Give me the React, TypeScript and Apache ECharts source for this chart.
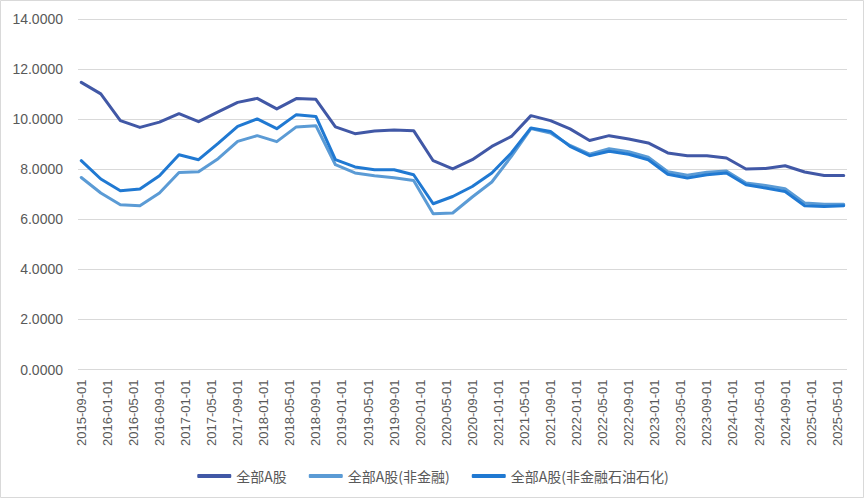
import React, { useEffect, useRef } from "react";
import * as echarts from "echarts";

const dates = [
  "2015-09-01", "2015-12-01", "2016-03-01", "2016-06-01", "2016-09-01", "2016-12-01",
  "2017-03-01", "2017-06-01", "2017-09-01", "2017-12-01", "2018-03-01", "2018-06-01",
  "2018-09-01", "2018-12-01", "2019-03-01", "2019-06-01", "2019-09-01", "2019-12-01",
  "2020-03-01", "2020-06-01", "2020-09-01", "2020-12-01", "2021-03-01", "2021-06-01",
  "2021-09-01", "2021-12-01", "2022-03-01", "2022-06-01", "2022-09-01", "2022-12-01",
  "2023-03-01", "2023-06-01", "2023-09-01", "2023-12-01", "2024-03-01", "2024-06-01",
  "2024-09-01", "2024-12-01", "2025-03-01", "2025-06-01",
];

const allA = [
  11.47, 11.01, 9.94, 9.67, 9.88, 10.22, 9.9, 10.29, 10.67, 10.83, 10.41, 10.82,
  10.79, 9.69, 9.42, 9.53, 9.57, 9.54, 8.34, 8.01, 8.38, 8.91, 9.31, 10.14,
  9.94, 9.61, 9.15, 9.34, 9.21, 9.05, 8.65, 8.54, 8.54, 8.45, 8.01, 8.03,
  8.14, 7.89, 7.75, 7.75,
];

const nonFin = [
  7.67, 7.05, 6.58, 6.54, 7.05, 7.87, 7.9, 8.42, 9.11, 9.34, 9.1, 9.69,
  9.74, 8.18, 7.85, 7.74, 7.66, 7.55, 6.22, 6.25, 6.89, 7.49, 8.51, 9.62,
  9.45, 8.95, 8.6, 8.82, 8.7, 8.48, 7.9, 7.76, 7.88, 7.93, 7.45, 7.35,
  7.22, 6.65, 6.6, 6.6,
];

const nonFinPetro = [
  8.34, 7.61, 7.14, 7.21, 7.74, 8.58, 8.38, 9.03, 9.71, 10.01, 9.62, 10.18,
  10.11, 8.38, 8.09, 7.98, 7.98, 7.78, 6.62, 6.91, 7.31, 7.85, 8.65, 9.65,
  9.51, 8.91, 8.54, 8.72, 8.6, 8.38, 7.8, 7.65, 7.78, 7.85, 7.38, 7.25,
  7.11, 6.54, 6.51, 6.54,
];

const seriesNames = ["全部A股", "全部A股(非金融)", "全部A股(非金融石油石化)"];
const seriesColors = ["#4158A6", "#5B9BD5", "#2079D2"];

const START_YEAR = 2015;
const START_MONTH = 9;
const monthIndex = (d: string) => {
  const [y, m] = d.split("-").map(Number);
  return (y - START_YEAR) * 12 + (m - START_MONTH);
};
const indexToDate = (i: number) => {
  const total = START_MONTH - 1 + i;
  const y = START_YEAR + Math.floor(total / 12);
  const m = (total % 12) + 1;
  return `${y}-${String(m).padStart(2, "0")}-01`;
};

const lastIndex = monthIndex(dates[dates.length - 1]);
const labelValues: number[] = [];
for (let i = 0; i <= lastIndex; i += 4) labelValues.push(i);

export default function App() {
  const ref = useRef<HTMLDivElement>(null);

  useEffect(() => {
    if (!ref.current) return;
    const chart = echarts.init(ref.current, undefined, { renderer: "svg" });
    const values = [allA, nonFin, nonFinPetro];
    chart.setOption({
      animation: false,
      backgroundColor: "#ffffff",
      textStyle: { fontFamily: "'Liberation Sans', 'Noto Sans CJK SC', sans-serif" },
      grid: { left: 78, right: 19, top: 19, bottom: 130.5, containLabel: false },
      graphic: [
        {
          type: "rect",
          shape: { x: 0.5, y: 0.5, width: 863, height: 497 },
          style: { fill: "none", stroke: "#d9d9d9", lineWidth: 1 },
          silent: true,
        },
      ],
      legend: {
        top: 464,
        left: "center",
        itemWidth: 34,
        itemHeight: 4,
        itemGap: 22,
        icon: "roundRect",
        textStyle: {
          color: "#595959",
          fontSize: 14,
          fontFamily: "'Noto Sans CJK SC', sans-serif",
        },
        data: seriesNames,
      },
      xAxis: {
        type: "value",
        min: -0.5,
        max: lastIndex + 0.5,
        splitLine: { show: false },
        axisLine: { show: false },
        axisTick: { show: false },
        axisLabel: {
          customValues: labelValues,
          rotate: 90,
          margin: 10,
          color: "#595959",
          fontSize: 13,
          formatter: (v: number) => indexToDate(Math.round(v)),
        },
      },
      yAxis: {
        type: "value",
        min: 0,
        max: 14,
        interval: 2,
        axisLine: { show: false },
        axisTick: { show: false },
        splitLine: { lineStyle: { color: "#d9d9d9", width: 1 } },
        axisLabel: {
          color: "#595959",
          fontSize: 14,
          margin: 15,
          formatter: (v: number) => v.toFixed(4),
        },
      },
      series: seriesNames.map((name, k) => ({
        name,
        type: "line",
        showSymbol: false,
        symbol: "none",
        color: seriesColors[k],
        lineStyle: { width: 3, color: seriesColors[k], cap: "round", join: "round" },
        data: dates.map((d, i) => [monthIndex(d), values[k][i]]),
      })),
    });
    return () => chart.dispose();
  }, []);

  return (
    <div
      ref={ref}
      style={{ position: "fixed", left: 0, top: 0, width: 866, height: 500 }}
    />
  );
}
